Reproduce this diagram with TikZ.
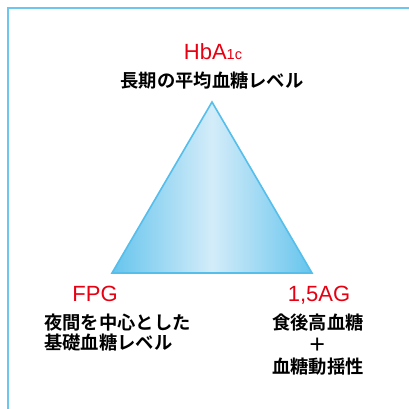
\documentclass[tikz,border=0pt]{standalone}
\usepackage{fontspec}
\setmainfont{Liberation Sans}
\newfontfamily\jp{Noto Sans CJK JP}[BoldFont={* Bold}]
\definecolor{frameblue}{HTML}{6CC6EE}
\definecolor{triedge}{HTML}{55BEEB}
\definecolor{trilight}{HTML}{D3ECF9}
\definecolor{labred}{HTML}{E60012}
\tikzset{
  lab/.style={anchor=base, inner sep=0pt, text=labred, font=\fontsize{22}{24}\selectfont},
  jtext/.style={anchor=base, inner sep=0pt, text=black, font=\jp\bfseries\fontsize{18.3}{20.5}\selectfont},
}
\begin{document}
\begin{tikzpicture}[x=1pt,y=-1pt]
\useasboundingbox (0,0) rectangle (409,408);
\fill[white] (0,0) rectangle (409,408);
\begin{scope}
\clip (0,0) rectangle (409,408);
\draw[frameblue, line width=2pt] (8,8) rectangle (430,430);
\end{scope}
\coordinate (apex) at (212,102);
\coordinate (bl) at (112,273);
\coordinate (br) at (312,273);
\shade[left color=triedge!90, right color=triedge!90, middle color=trilight, shading angle=90]
  (apex) -- (bl) -- (br) -- cycle;
\draw[triedge, line width=1.6pt, line join=miter] (apex) -- (bl) -- (br) -- cycle;
\node[lab] (hba) at (213,59) {HbA{\fontsize{14.5}{15}\selectfont 1c}};
\node[jtext] (hbat) at (212,87) {長期の平均血糖レベル};
\node[lab] (fpg) at (95,301.5) {FPG};
\node[jtext, anchor=base west] (fpgt1) at (44,329) {夜間を中心とした};
\node[jtext, anchor=base west] (fpgt2) at (44,349.5) {基礎血糖レベル};
\node[lab] (ag) at (319,301.5) {1,5AG};
\node[jtext] (agt1) at (318,329) {食後高血糖};
\node[jtext] (agt2) at (318,351) {＋};
\node[jtext] (agt3) at (318,373.5) {血糖動揺性};
\end{tikzpicture}
\end{document}
